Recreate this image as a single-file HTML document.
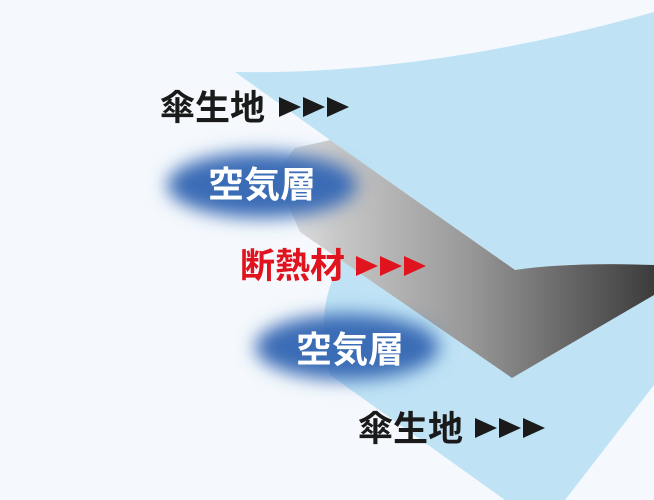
<!DOCTYPE html>
<html><head><meta charset="utf-8"><style>
html,body{margin:0;padding:0;background:#f5f9fd;}
svg{display:block}
text{font-family:"Liberation Sans","Noto Sans CJK JP",sans-serif;font-weight:bold;}
</style></head><body>
<svg width="654" height="500" viewBox="0 0 654 500">
<defs>
<linearGradient id="g" x1="280" y1="0" x2="654" y2="0" gradientUnits="userSpaceOnUse">
<stop offset="0" stop-color="#e4e4e4"/><stop offset="0.15" stop-color="#c8c8c8"/><stop offset="0.5" stop-color="#999"/><stop offset="1" stop-color="#3c3c3c"/>
</linearGradient>
<filter id="b" x="-50%" y="-80%" width="200%" height="260%"><feGaussianBlur stdDeviation="9"/></filter>
<filter id="s" x="-10%" y="-10%" width="120%" height="120%"><feGaussianBlur stdDeviation="1.5"/></filter>
</defs>
<rect width="654" height="500" fill="#f5f9fd"/>
<path d="M345 255 Q312 305 330 375 L505 500 L565 500 L654 385 L654 270 Z" fill="#bfe3f5"/>
<path d="M235 72 Q430 75 654 12 L654 265 Q560 262 515 270 L330 140 Z" fill="#bfe3f5"/>
<path d="M330 140 L515 270 Q570 262 654 265 L654 295 L512 378 L300 232 L275 175 L295 148 Z" fill="url(#g)"/>
<ellipse cx="262" cy="185" rx="95" ry="33" fill="#3a6cb6" filter="url(#b)"/>
<ellipse cx="347" cy="347" rx="92" ry="33" fill="#3a6cb6" filter="url(#b)"/>
<text x="160" y="120" font-size="35" fill="#1a1a1a">傘生地</text>
<g fill="#1a1a1a"><polygon points="279,97 301,107 279,117"/><polygon points="303,97 325,107 303,117"/><polygon points="327,97 349,107 327,117"/></g>
<text x="208" y="197" font-size="36" fill="#fff">空気層</text>
<text x="240" y="278" font-size="35" fill="#e0141e">断熱材</text>
<g fill="#e0141e"><polygon points="356,256 378,266 356,276"/><polygon points="380,256 402,266 380,276"/><polygon points="404,256 426,266 404,276"/></g>
<text x="296" y="362" font-size="36" fill="#fff">空気層</text>
<text x="358" y="441" font-size="35" fill="#1a1a1a">傘生地</text>
<g fill="#1a1a1a"><polygon points="475,418 497,428 475,438"/><polygon points="499,418 521,428 499,438"/><polygon points="523,418 545,428 523,438"/></g>
</svg>
</body></html>
